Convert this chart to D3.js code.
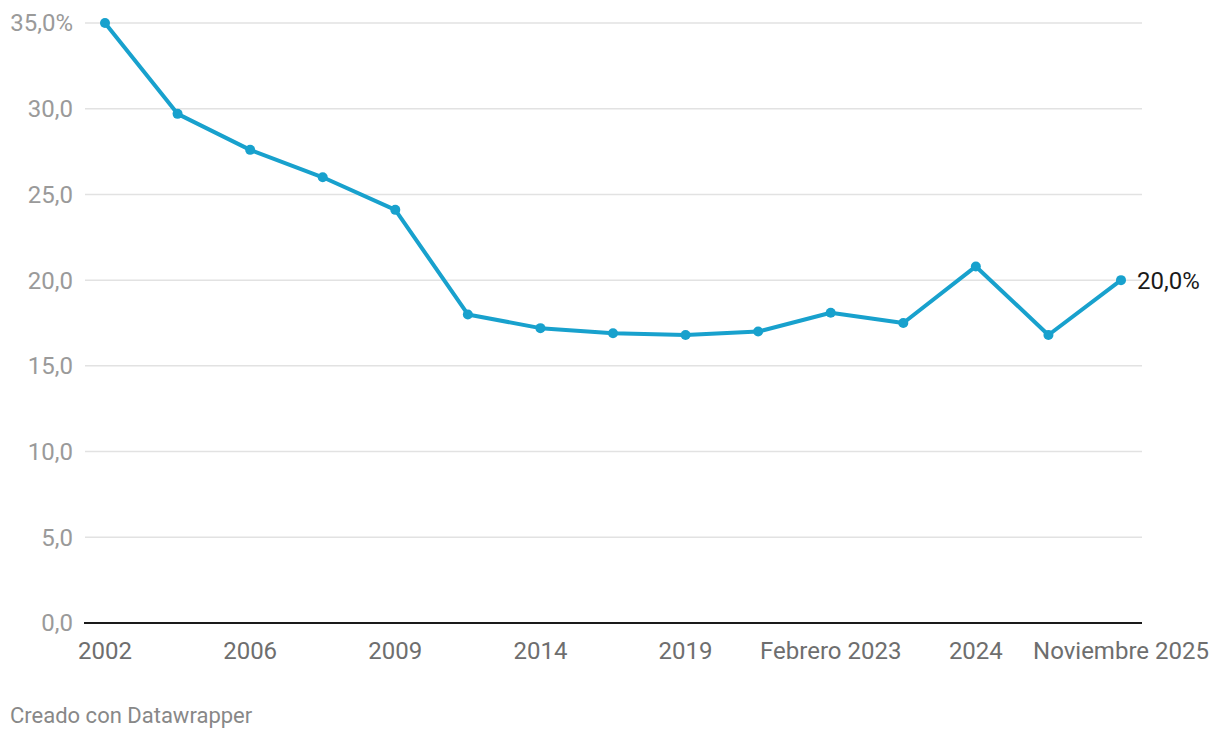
<!DOCTYPE html>
<html><head><meta charset="utf-8">
<script src="https://cdn.jsdelivr.net/npm/d3@7"></script>
<style>
body{margin:0;background:#fff;font-family:Roboto,"Noto Sans",sans-serif;}
</style></head>
<body><svg id="c" width="1220" height="740"></svg>
<script>
const categories = ["2002","2004","2006","2008","2009","2012","2014","2016","2019","2021","Febrero 2023","Agosto 2023","2024","Mayo 2025","Noviembre 2025"];
const values = [35.0,29.7,27.6,26.0,24.1,18.0,17.2,16.9,16.8,17.0,18.1,17.5,20.8,16.8,20.0];
const shownLabels = ["2002","2006","2009","2014","2019","Febrero 2023","2024","Noviembre 2025"];
const yTicks = [0,5,10,15,20,25,30,35];

const svg = d3.select("#c");
const x = d3.scalePoint().domain(categories).range([105,1121]);
const y = d3.scaleLinear().domain([0,35]).range([623,23]);
const fmt = v => v.toFixed(1).replace(".",",");

const g = svg.append("g");
g.selectAll("line.grid").data(yTicks.filter(d=>d>0)).join("line")
 .attr("x1",85).attr("x2",1142).attr("y1",d=>y(d)).attr("y2",d=>y(d))
 .attr("stroke","#e2e2e2").attr("stroke-width",1.5);
g.selectAll("text.yl").data(yTicks).join("text")
 .attr("x",73).attr("y",d=>y(d)).attr("dy","0.35em").attr("text-anchor","end")
 .attr("fill","#9a9a9a").attr("font-size",24)
 .text(d=> d===35 ? fmt(d)+"%" : fmt(d));
g.append("line").attr("x1",84).attr("x2",1142).attr("y1",y(0)).attr("y2",y(0))
 .attr("stroke","#1a1a1a").attr("stroke-width",2);
g.selectAll("text.xl").data(categories.filter(c=>shownLabels.includes(c))).join("text")
 .attr("x",d=>x(d)).attr("y",659).attr("text-anchor","middle")
 .attr("fill","#6e6e6e").attr("font-size",24).text(d=>d);
const data = categories.map((c,i)=>({c,v:values[i]}));
g.append("path").datum(data)
 .attr("d",d3.line().x(d=>x(d.c)).y(d=>y(d.v)))
 .attr("fill","none").attr("stroke","#18a1cd").attr("stroke-width",4).attr("stroke-linejoin","round");
g.selectAll("circle").data(data).join("circle")
 .attr("cx",d=>x(d.c)).attr("cy",d=>y(d.v)).attr("r",5).attr("fill","#18a1cd");
const last = data[data.length-1];
g.append("text").attr("x",x(last.c)+16).attr("y",y(last.v)).attr("dy","0.35em")
 .attr("fill","#1a1a1a").attr("font-size",24).text(fmt(last.v)+"%");
svg.append("text").attr("x",10).attr("y",723).attr("fill","#888").attr("font-size",22)
 .text("Creado con Datawrapper");
</script></body></html>
